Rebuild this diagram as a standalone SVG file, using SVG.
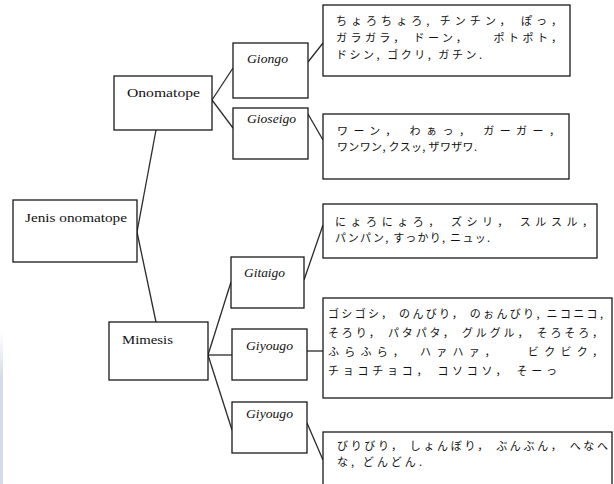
<svg xmlns="http://www.w3.org/2000/svg" width="614" height="484" viewBox="0 0 614 484">
<defs>
<style>
.box{fill:#fff;stroke:#1a1a1a;stroke-width:1.3}
.con{fill:none;stroke:#2a2a2a;stroke-width:1.3}
.lat{font-family:"Liberation Serif","DejaVu Serif",serif;font-size:13px;fill:#111}
.it{font-family:"Liberation Serif","DejaVu Serif",serif;font-size:13px;font-style:italic;fill:#111}
.jp{font-family:"Noto Sans CJK JP","Noto Sans",sans-serif;font-size:11px;fill:#111}
</style>
<linearGradient id="edge" x1="0" y1="0" x2="0" y2="1">
<stop offset="0" stop-color="#dfe3f0" stop-opacity="0"/>
<stop offset="0.3" stop-color="#d6dbeb"/>
<stop offset="1" stop-color="#d6dbeb"/>
</linearGradient>
</defs>
<rect width="614" height="484" fill="#fff"/>
<rect x="0" y="330" width="3" height="154" fill="url(#edge)"/>

<g id="connectors">
<line class="con" x1="156" y1="130" x2="137" y2="232"/>
<line class="con" x1="137" y1="232" x2="156" y2="322"/>
<line class="con" x1="212" y1="100" x2="233" y2="68"/>
<line class="con" x1="212" y1="100" x2="233" y2="128"/>
<line class="con" x1="208" y1="355" x2="231" y2="282"/>
<line class="con" x1="208" y1="355" x2="232" y2="355"/>
<line class="con" x1="208" y1="355" x2="232" y2="430"/>
<line class="con" x1="308" y1="62" x2="323" y2="43"/>
<line class="con" x1="308" y1="114" x2="323" y2="140"/>
<line class="con" x1="304" y1="280" x2="323" y2="225"/>
<line class="con" x1="307" y1="351" x2="323" y2="351"/>
<line class="con" x1="307" y1="423" x2="323" y2="460"/>
</g>

<g id="jenis">
<rect class="box" x="13" y="200" width="124" height="62"/>
<text class="lat" x="25" y="222" textLength="102" lengthAdjust="spacingAndGlyphs">Jenis onomatope</text>
</g>

<g id="onomatope">
<rect class="box" x="114" y="76" width="98" height="54"/>
<text class="lat" x="127" y="97" textLength="73" lengthAdjust="spacingAndGlyphs">Onomatope</text>
</g>

<g id="mimesis">
<rect class="box" x="109" y="322" width="99" height="58"/>
<text class="lat" x="122" y="344" textLength="51" lengthAdjust="spacingAndGlyphs">Mimesis</text>
</g>

<g id="giongo">
<rect class="box" x="233" y="43" width="75" height="55"/>
<text class="it" x="247" y="63" textLength="41" lengthAdjust="spacingAndGlyphs">Giongo</text>
</g>

<g id="gioseigo">
<rect class="box" x="233" y="108" width="75" height="51"/>
<text class="it" x="247" y="123" textLength="49" lengthAdjust="spacingAndGlyphs">Gioseigo</text>
</g>

<g id="gitaigo">
<rect class="box" x="231" y="257" width="73" height="51"/>
<text class="it" x="244" y="277" textLength="41" lengthAdjust="spacingAndGlyphs">Gitaigo</text>
</g>

<g id="giyougo1">
<rect class="box" x="232" y="329" width="75" height="51"/>
<text class="it" x="246" y="350" textLength="47" lengthAdjust="spacingAndGlyphs">Giyougo</text>
</g>

<g id="giyougo2">
<rect class="box" x="232" y="402" width="75" height="51"/>
<text class="it" x="246" y="418" textLength="47" lengthAdjust="spacingAndGlyphs">Giyougo</text>
</g>

<g id="ex-giongo">
<rect class="box" x="323" y="5" width="247" height="71"/>
<text class="jp" x="336" y="25" textLength="226" lengthAdjust="spacing">ちょろちょろ, チンチン， ぽっ，</text>
<text class="jp" x="336" y="42" textLength="226" lengthAdjust="spacing">ガラガラ， ドーン，　　ポトポト，</text>
<text class="jp" x="336" y="59" textLength="146" lengthAdjust="spacing">ドシン, ゴクリ, ガチン.</text>
</g>

<g id="ex-gioseigo">
<rect class="box" x="323" y="114" width="246" height="65"/>
<text class="jp" x="337" y="135" textLength="223" lengthAdjust="spacing">ワーン， わぁっ， ガーガー，</text>
<text class="jp" x="337" y="151" textLength="140" lengthAdjust="spacing">ワンワン, クスッ, ザワザワ.</text>
</g>

<g id="ex-gitaigo">
<rect class="box" x="323" y="204" width="274" height="54"/>
<text class="jp" x="335" y="226" textLength="258" lengthAdjust="spacing">にょろにょろ， ズシリ， スルスル，</text>
<text class="jp" x="335" y="242" textLength="155" lengthAdjust="spacing">パンパン, すっかり, ニュッ.</text>
</g>

<g id="ex-giyougo1">
<rect class="box" x="323" y="298" width="289" height="100"/>
<text class="jp" x="328" y="318" textLength="275" lengthAdjust="spacing">ゴシゴシ， のんびり， のぉんびり, ニコニコ,</text>
<text class="jp" x="328" y="337" textLength="275" lengthAdjust="spacing">そろり， パタパタ， グルグル， そろそろ，</text>
<text class="jp" x="328" y="356" textLength="275" lengthAdjust="spacing">ふらふら，　ハァハァ，　　ビクビク，</text>
<text class="jp" x="328" y="375" textLength="229" lengthAdjust="spacing">チョコチョコ， コソコソ， そーっ</text>
</g>

<g id="ex-giyougo2">
<rect class="box" x="323" y="432" width="289" height="60"/>
<text class="jp" x="337" y="450" textLength="271" lengthAdjust="spacing">びりびり， しょんぼり， ぶんぶん， へなへ</text>
<text class="jp" x="337" y="466" textLength="85" lengthAdjust="spacing">な, どんどん.</text>
</g>
</svg>
